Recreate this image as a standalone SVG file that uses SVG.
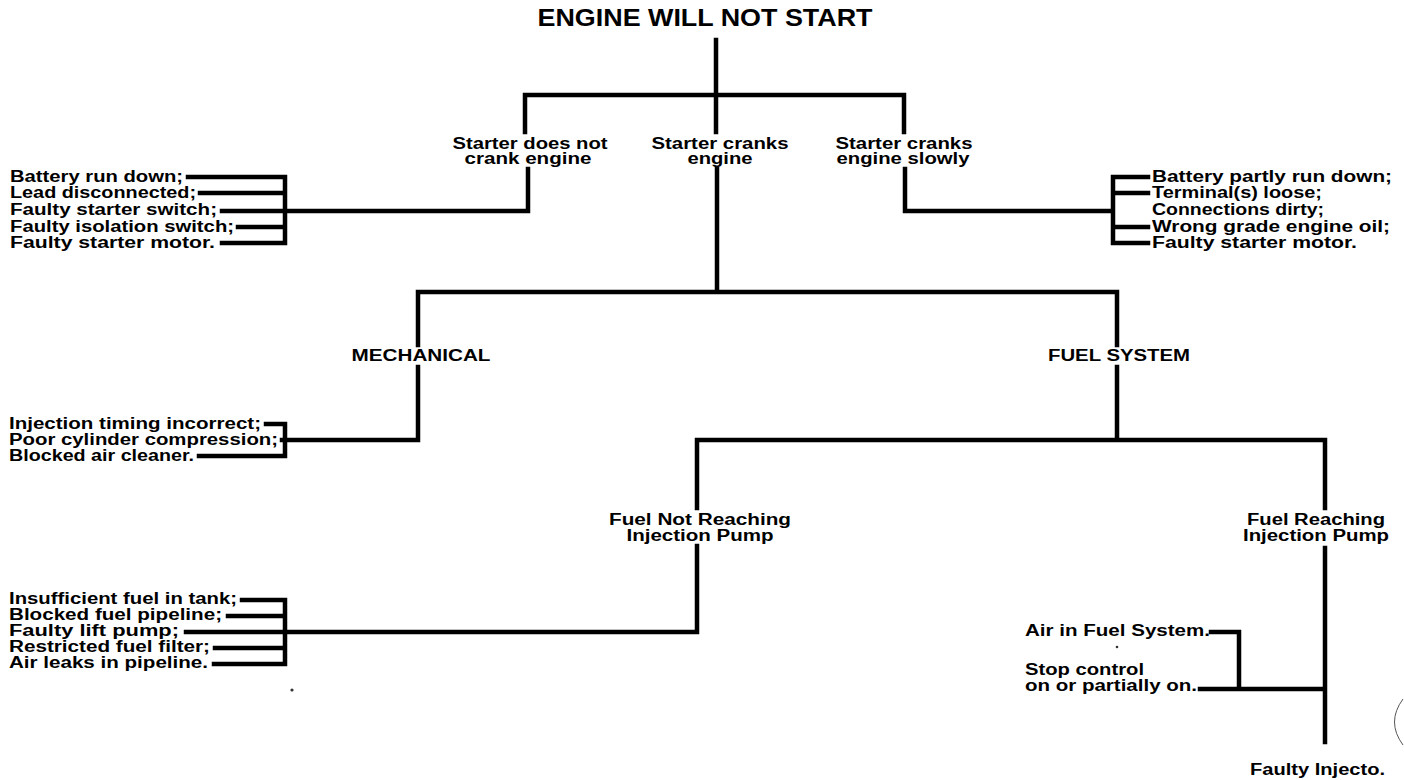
<svg xmlns="http://www.w3.org/2000/svg" width="1404" height="780" viewBox="0 0 1404 780">
<style>
text{font-family:"Liberation Sans",Arial,sans-serif;font-weight:bold;fill:#000;}
.t{font-size:23px;}
.l{font-size:16px;}
.c{text-anchor:middle;}
.ln{stroke:#000;stroke-width:4.5;fill:none;stroke-linecap:square;stroke-linejoin:miter;}
.dot{fill:#333;}
</style>
<rect width="1404" height="780" fill="#fff"/>
<g id="connectors">
<path class="ln" d="M716,40 V95 M525,95 H904 M525,95 V132 M716,95 V132 M904,95 V132"/>
<path class="ln" d="M528,169 V211 H222 M285,177 V243 M188,177 H285 M200,193 H285 M238,227 H285 M222,243 H285"/>
<path class="ln" d="M905,169 V211 H1113 M1113,177 V243 M1113,177 H1148 M1113,193 H1148 M1113,227 H1148 M1113,243 H1148"/>
<path class="ln" d="M717,169 V292 M418,292 H1117 M418,292 V345 M1117,292 V345"/>
<path class="ln" d="M418,367 V440 H282 M285,424 V456 M266,424 H285 M199,456 H285"/>
<path class="ln" d="M1117,367 V440 M697,440 H1325 M697,440 V508 M1325,440 V508"/>
<path class="ln" d="M697,546 V632 H186 M285,600 V664 M242,600 H285 M228,616 H285 M215,648 H285 M214,664 H285"/>
<path class="ln" d="M1325,548 V742 M1200,689 H1325 M1211,632 H1239 V689"/>
</g>
<g id="n-root"><text class="t c" x="705" y="26" textLength="335" lengthAdjust="spacingAndGlyphs">ENGINE WILL NOT START</text></g>
<g id="n-notcrank"><text class="l c" x="530" y="149" textLength="155" lengthAdjust="spacingAndGlyphs">Starter does not</text><text class="l c" x="528" y="164" textLength="127" lengthAdjust="spacingAndGlyphs">crank engine</text></g>
<g id="n-cranks"><text class="l c" x="720" y="149" textLength="137" lengthAdjust="spacingAndGlyphs">Starter cranks</text><text class="l c" x="720" y="164" textLength="65" lengthAdjust="spacingAndGlyphs">engine</text></g>
<g id="n-slowly"><text class="l c" x="904" y="149" textLength="137" lengthAdjust="spacingAndGlyphs">Starter cranks</text><text class="l c" x="903" y="164" textLength="133" lengthAdjust="spacingAndGlyphs">engine slowly</text></g>
<g id="n-list1">
<text class="l" x="10" y="182" textLength="173" lengthAdjust="spacingAndGlyphs">Battery run down;</text>
<text class="l" x="10" y="198" textLength="186" lengthAdjust="spacingAndGlyphs">Lead disconnected;</text>
<text class="l" x="10" y="215" textLength="207" lengthAdjust="spacingAndGlyphs">Faulty starter switch;</text>
<text class="l" x="10" y="232" textLength="224" lengthAdjust="spacingAndGlyphs">Faulty isolation switch;</text>
<text class="l" x="10" y="248" textLength="205" lengthAdjust="spacingAndGlyphs">Faulty starter motor.</text>
</g>
<g id="n-list2">
<text class="l" x="1152" y="182" textLength="240" lengthAdjust="spacingAndGlyphs">Battery partly run down;</text>
<text class="l" x="1152" y="198" textLength="170" lengthAdjust="spacingAndGlyphs">Terminal(s) loose;</text>
<text class="l" x="1152" y="215" textLength="172" lengthAdjust="spacingAndGlyphs">Connections dirty;</text>
<text class="l" x="1152" y="232" textLength="238" lengthAdjust="spacingAndGlyphs">Wrong grade engine oil;</text>
<text class="l" x="1152" y="248" textLength="205" lengthAdjust="spacingAndGlyphs">Faulty starter motor.</text>
</g>
<g id="n-mech"><text class="l c" x="421" y="361" textLength="139" lengthAdjust="spacingAndGlyphs">MECHANICAL</text></g>
<g id="n-fuel"><text class="l c" x="1119" y="361" textLength="142" lengthAdjust="spacingAndGlyphs">FUEL SYSTEM</text></g>
<g id="n-list3">
<text class="l" x="9" y="429" textLength="252" lengthAdjust="spacingAndGlyphs">Injection timing incorrect;</text>
<text class="l" x="9" y="445" textLength="269" lengthAdjust="spacingAndGlyphs">Poor cylinder compression;</text>
<text class="l" x="9" y="461" textLength="185" lengthAdjust="spacingAndGlyphs">Blocked air cleaner.</text>
</g>
<g id="n-notreach"><text class="l c" x="700" y="525" textLength="182" lengthAdjust="spacingAndGlyphs">Fuel Not Reaching</text><text class="l c" x="700" y="541" textLength="147" lengthAdjust="spacingAndGlyphs">Injection Pump</text></g>
<g id="n-reach"><text class="l c" x="1316" y="525" textLength="138" lengthAdjust="spacingAndGlyphs">Fuel Reaching</text><text class="l c" x="1316" y="541" textLength="146" lengthAdjust="spacingAndGlyphs">Injection Pump</text></g>
<g id="n-list4">
<text class="l" x="9" y="604" textLength="228" lengthAdjust="spacingAndGlyphs">Insufficient fuel in tank;</text>
<text class="l" x="9" y="620" textLength="213" lengthAdjust="spacingAndGlyphs">Blocked fuel pipeline;</text>
<text class="l" x="9" y="636" textLength="170" lengthAdjust="spacingAndGlyphs">Faulty lift pump;</text>
<text class="l" x="9" y="652" textLength="201" lengthAdjust="spacingAndGlyphs">Restricted fuel filter;</text>
<text class="l" x="9" y="668" textLength="199" lengthAdjust="spacingAndGlyphs">Air leaks in pipeline.</text>
</g>
<g id="n-air"><text class="l" x="1025" y="636" textLength="185" lengthAdjust="spacingAndGlyphs">Air in Fuel System.</text></g>
<g id="n-stop"><text class="l" x="1025" y="675" textLength="119" lengthAdjust="spacingAndGlyphs">Stop control</text><text class="l" x="1025" y="691" textLength="172" lengthAdjust="spacingAndGlyphs">on or partially on.</text></g>
<g id="n-inj"><text class="l" x="1250" y="775" textLength="135" lengthAdjust="spacingAndGlyphs">Faulty Injecto.</text></g>
<path d="M1403,699 Q1386,722 1403,745" stroke="#555" stroke-width="1" fill="none"/>
<circle class="dot" cx="292" cy="690" r="1.6"/>
<circle class="dot" cx="1117" cy="647" r="1.3"/>
</svg>
